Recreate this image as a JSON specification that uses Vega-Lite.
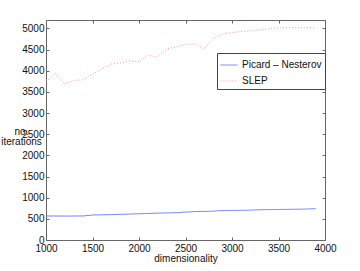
{
  "$schema": "https://vega.github.io/schema/vega-lite/v6.json",
  "autosize": {"type": "none"},
  "padding": {"left": 46, "top": 20, "right": 35, "bottom": 31},
  "width": 279,
  "height": 220,
  "background": "white",
  "config": {
    "font": "Liberation Sans",
    "view": {"stroke": null},
    "axis": {
      "grid": false,
      "domainColor": "#666666",
      "tickColor": "#666666",
      "tickSize": -3,
      "labelColor": "#111111",
      "labelFontSize": 10,
      "titleFontSize": 10,
      "titleFontWeight": "normal",
      "titleColor": "#111111",
      "format": "d"
    }
  },
  "datasets": {
    "series": [
      {"dim": 1000, "iters": 3740, "method": "SLEP"},
      {"dim": 1100, "iters": 3940, "method": "SLEP"},
      {"dim": 1200, "iters": 3690, "method": "SLEP"},
      {"dim": 1300, "iters": 3770, "method": "SLEP"},
      {"dim": 1400, "iters": 3786, "method": "SLEP"},
      {"dim": 1500, "iters": 3920, "method": "SLEP"},
      {"dim": 1600, "iters": 4040, "method": "SLEP"},
      {"dim": 1700, "iters": 4160, "method": "SLEP"},
      {"dim": 1800, "iters": 4180, "method": "SLEP"},
      {"dim": 1900, "iters": 4240, "method": "SLEP"},
      {"dim": 2000, "iters": 4210, "method": "SLEP"},
      {"dim": 2100, "iters": 4368, "method": "SLEP"},
      {"dim": 2200, "iters": 4320, "method": "SLEP"},
      {"dim": 2300, "iters": 4520, "method": "SLEP"},
      {"dim": 2400, "iters": 4565, "method": "SLEP"},
      {"dim": 2500, "iters": 4620, "method": "SLEP"},
      {"dim": 2600, "iters": 4635, "method": "SLEP"},
      {"dim": 2650, "iters": 4580, "method": "SLEP"},
      {"dim": 2700, "iters": 4515, "method": "SLEP"},
      {"dim": 2800, "iters": 4760, "method": "SLEP"},
      {"dim": 2900, "iters": 4870, "method": "SLEP"},
      {"dim": 3000, "iters": 4905, "method": "SLEP"},
      {"dim": 3100, "iters": 4925, "method": "SLEP"},
      {"dim": 3200, "iters": 4945, "method": "SLEP"},
      {"dim": 3300, "iters": 4970, "method": "SLEP"},
      {"dim": 3400, "iters": 4990, "method": "SLEP"},
      {"dim": 3500, "iters": 5015, "method": "SLEP"},
      {"dim": 3600, "iters": 5017, "method": "SLEP"},
      {"dim": 3700, "iters": 5017, "method": "SLEP"},
      {"dim": 3800, "iters": 5017, "method": "SLEP"},
      {"dim": 3900, "iters": 5017, "method": "SLEP"},
      {"dim": 1000, "iters": 568, "method": "Picard – Nesterov"},
      {"dim": 1200, "iters": 566, "method": "Picard – Nesterov"},
      {"dim": 1400, "iters": 568, "method": "Picard – Nesterov"},
      {"dim": 1500, "iters": 590, "method": "Picard – Nesterov"},
      {"dim": 1700, "iters": 600, "method": "Picard – Nesterov"},
      {"dim": 2000, "iters": 620, "method": "Picard – Nesterov"},
      {"dim": 2200, "iters": 635, "method": "Picard – Nesterov"},
      {"dim": 2400, "iters": 646, "method": "Picard – Nesterov"},
      {"dim": 2600, "iters": 672, "method": "Picard – Nesterov"},
      {"dim": 2800, "iters": 680, "method": "Picard – Nesterov"},
      {"dim": 2850, "iters": 693, "method": "Picard – Nesterov"},
      {"dim": 3200, "iters": 705, "method": "Picard – Nesterov"},
      {"dim": 3300, "iters": 716, "method": "Picard – Nesterov"},
      {"dim": 3600, "iters": 724, "method": "Picard – Nesterov"},
      {"dim": 3800, "iters": 732, "method": "Picard – Nesterov"},
      {"dim": 3900, "iters": 741, "method": "Picard – Nesterov"}
    ]
  },
  "layer": [
    {
      "data": {"name": "series"},
      "mark": {"type": "line", "strokeWidth": 1},
      "encoding": {
        "x": {
          "field": "dim", "type": "quantitative",
          "scale": {"domain": [1000, 4000], "nice": false, "zero": false},
          "axis": {"orient": "bottom", "values": [1000, 1500, 2000, 2500, 3000, 3500, 4000], "title": "dimensionality", "labelPadding": 6, "titlePadding": 0, "labelFlush": false}
        },
        "y": {
          "field": "iters", "type": "quantitative",
          "scale": {"domain": [0, 5200], "nice": false},
          "axis": {"orient": "left", "values": [0, 500, 1000, 1500, 2000, 2500, 3000, 3500, 4000, 4500, 5000], "title": ["no.", "iterations"], "titleAngle": 0, "titleAlign": "center", "titleBaseline": "middle", "titleX": -25, "titleY": 111, "labelPadding": 5, "titleLineHeight": 10, "labelFlush": false}
        },
        "color": {
          "field": "method", "type": "nominal",
          "scale": {"domain": ["Picard – Nesterov", "SLEP"], "range": ["#7083ff", "#ff8f8f"]},
          "legend": {
            "title": null, "orient": "none", "legendX": 171, "legendY": 33,
            "direction": "vertical",
            "symbolType": "stroke", "symbolSize": 289, "symbolStrokeWidth": 1,
            "labelFontSize": 10, "labelColor": "#111111", "labelOffset": 4, "labelLimit": 200,
            "strokeColor": "#444444", "fillColor": "white",
            "padding": 3, "rowPadding": 2
          }
        },
        "strokeDash": {
          "field": "method", "type": "nominal",
          "scale": {"domain": ["Picard – Nesterov", "SLEP"], "range": [[1, 0], [1, 2]]},
          "legend": {
            "title": null, "orient": "none", "legendX": 171, "legendY": 33,
            "direction": "vertical",
            "symbolType": "stroke", "symbolSize": 289, "symbolStrokeWidth": 1,
            "labelFontSize": 10, "labelColor": "#111111", "labelOffset": 4, "labelLimit": 200,
            "strokeColor": "#444444", "fillColor": "white",
            "padding": 3, "rowPadding": 2
          }
        }
      }
    },
    {
      "data": {"values": [{"dim": 1000, "iters": 0}]},
      "mark": {"type": "point", "opacity": 0},
      "encoding": {
        "x": {"field": "dim", "type": "quantitative", "axis": {"orient": "top", "labels": false, "title": null, "values": [1000, 1500, 2000, 2500, 3000, 3500, 4000]}},
        "y": {"field": "iters", "type": "quantitative", "axis": {"orient": "right", "labels": false, "title": null, "values": [0, 500, 1000, 1500, 2000, 2500, 3000, 3500, 4000, 4500, 5000]}}
      }
    }
  ],
  "resolve": {"axis": {"x": "independent", "y": "independent"}}
}
